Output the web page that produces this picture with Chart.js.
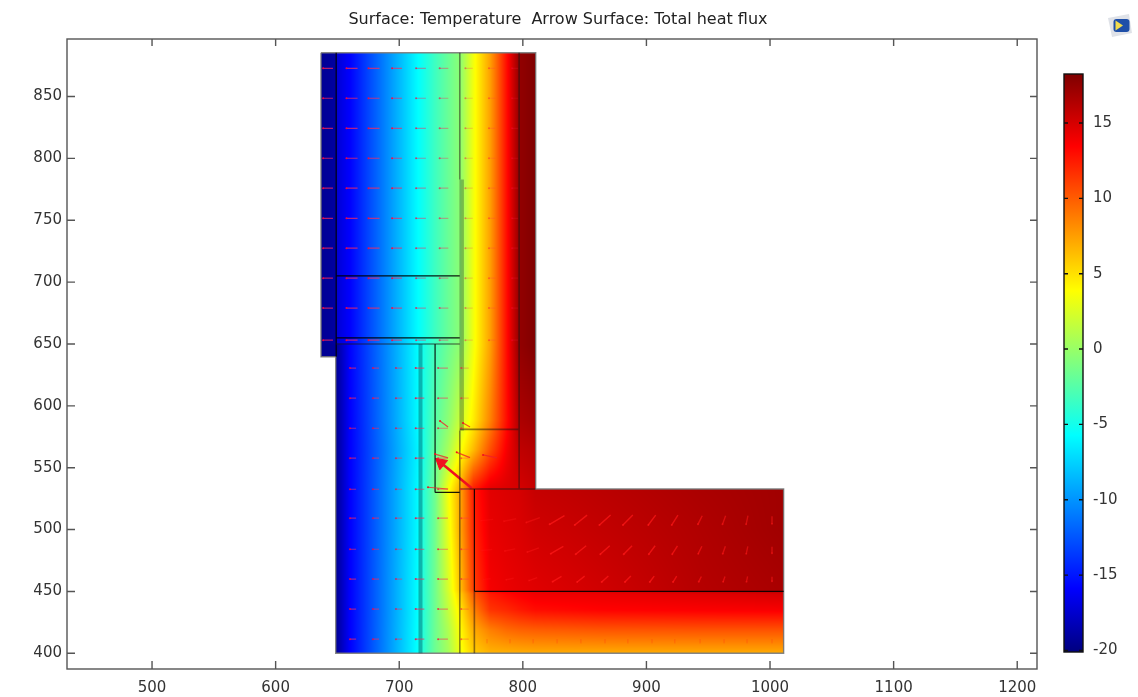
<!DOCTYPE html>
<html>
<head>
<meta charset="utf-8">
<title>Surface: Temperature</title>
<script src="https://cdn.jsdelivr.net/npm/chart.js@4/dist/chart.umd.min.js"></script>
<style>
    html, body { margin: 0; padding: 0; background: #fff; overflow: hidden; }
    #plot { position: absolute; left: 0; top: 0; }
    #colorbar { position: absolute; left: 1040px; top: 0; }
    #logo { position: absolute; left: 1107px; top: 13px; }
</style>
</head>
<body>
<canvas id="plot" width="1116" height="697"></canvas>
<canvas id="colorbar" width="98" height="697"></canvas>
<svg id="logo" width="26" height="26" viewBox="0 0 26 26">
    <path d="M1 5 L22 1 L25 20 L5 24 Z" fill="#dfe2e8"/>
    <rect x="6.5" y="6" width="16" height="13" rx="3" fill="#1f4fa8"/>
    <path d="M8.5 7.5 L16 12.5 L8.5 17.5 Z" fill="#f2dc4e"/>
</svg>
<script>
// Temperature, rows top to bottom, one value per xKnots
const xKnots = [637, 648.5, 649.5, 660, 714.4, 729, 739.5, 749, 760, 773.5, 787, 797, 810, 862.5, 943, 1011];
const yKnots = [885.5, 651, 649, 588.5, 564, 532, 500, 451, 448, 435, 419, 400];
const temps = [
    [-19.4, -19, -17.3, -15.9, -5.9, -3.4, -1.8, -0.5, 3.4, 7.4, 13, 17.5, 18.2, 18.2, 18.2, 18.2],
    [-19.4, -19, -17.3, -15.9, -5.9, -3.4, -1.8, -0.5, 3.4, 7.4, 13, 17.5, 18.2, 18.2, 18.2, 18.2],
    [-19.4, -19.3, -19.2, -15.9, -5.9, -3.2, -1.6, -0.3, 3.4, 7.4, 13, 17.5, 18.2, 18.2, 18.2, 18.2],
    [-19.4, -19.3, -19.2, -16, -6, -2.5, -0.5, 1.8, 4.5, 8.5, 13, 16.5, 17, 17, 17, 17],
    [-19.4, -19.3, -19.2, -16, -6.3, -2, 0.5, 3.5, 6.5, 10.5, 13.8, 15.8, 16.2, 16.2, 16.2, 16.2],
    [-19.4, -19.3, -19.2, -16, -6, -1.5, 3.5, 7, 12.5, 14.5, 14.8, 15, 15.6, 16, 16.6, 17],
    [-19.4, -19.3, -19.2, -16, -6, -1.5, 3, 7, 12, 14.3, 14.6, 14.8, 15.2, 15.7, 16.4, 17],
    [-19.4, -19.3, -19.2, -16, -5.8, -1.5, 2.2, 6, 11, 13.8, 14.2, 14.4, 14.6, 15.2, 16.2, 16.7],
    [-19.4, -19.3, -19.2, -16, -5.8, -1.5, 2, 5.5, 10, 12.5, 13.2, 13.6, 14, 14.2, 14.6, 15],
    [-19.4, -19.3, -19.2, -16, -5.8, -1.6, 1.5, 4.5, 8.5, 11.5, 12, 12.5, 13, 13.4, 13.6, 13.7],
    [-19.4, -19.3, -19.2, -16, -5.7, -1.6, 0.8, 3.8, 7, 8.7, 9.5, 9.8, 10, 10.3, 10.4, 10.4],
    [-19.4, -19.3, -19.2, -16, -5.6, -1.6, 0.4, 3.3, 5.7, 6.7, 6.8, 6.9, 7, 7, 7, 7]
];

// Solid parts of the model: [x0, x1, y0, y1]
const regions = [
    [636.7, 649, 639.7, 885.4],
    [649, 810.4, 532.8, 885.4],
    [648.6, 1011, 400, 532.8]
];
const outlineX = [636.7, 810.4, 810.4, 1011, 1011, 648.6, 648.6, 636.7, 636.7];
const outlineY = [885.4, 885.4, 532.8, 532.8, 400, 400, 639.7, 639.7, 885.4];

// Edges: [x0, y0, x1, y1]
const blackEdges = [
    [649, 885.4, 649, 639.7],
    [649, 705, 749, 705],
    [649, 655, 749, 655],
    [729, 650, 729, 530],
    [729, 530, 749, 530],
    [760.8, 532.8, 760.8, 450],
    [760.8, 450, 1011, 450]
];
const softEdges = [
    [797, 885.4, 797, 532.8],
    [749, 581, 797, 581],
    [649, 650, 749, 650],
    [749, 885.4, 749, 783],
    [749, 580, 749, 400],
    [760.8, 450, 760.8, 400],
    [749, 532.8, 810.4, 532.8]
];
const wideStrip = [[750.5, 783, 750.5, 580]];
const tealStrip = [[717.2, 650, 717.2, 400]];

// Heat flux arrows
const upperArrowX = [642.4, 661.8, 679.6, 698.2, 717.6, 736.2, 756.5, 775.1, 793.7];
const upperArrowY = [872.8, 848.6, 824.3, 800.1, 775.9, 751.6, 727.4, 703.2, 679, 653.1];
const upperArrowLen = [8, 9, 9, 8, 8, 7, 6, 5, 5];
const upperArrowAlpha = [0.7, 0.7, 0.7, 0.65, 0.45, 0.4, 0.22, 0.18, 0.15];
const lowerArrowX = [662.6, 681.2, 699.8, 716.8, 735.4, 753.2];
const lowerArrowY = [630.5, 606.2, 581.9, 557.7, 532.6, 509.2, 484.1, 460, 435.7, 411.4];
const lowerArrowLen = [5, 5, 5, 7, 8, 6];
const lowerArrowAlpha = [0.6, 0.55, 0.45, 0.6, 0.5, 0.3];
const slabArrowX = [771, 789.6, 808.3, 827.7, 847, 866.5, 885, 904.5, 923, 943.4, 962.8, 981.4, 1001.6];
const slabArrowY = [507.7, 483.5, 460];
const slabArrowDx = [10, 10, 11, 12, 10, 9, 8, 6, 5, 3.5, 2.5, 1.5, 0];
const slabArrowDy = [1, 2, 4, 7, 8, 8, 8, 8, 8, 7, 7, 7, 6];
const slabArrowAlpha = [0.25, 0.3, 0.4, 0.7, 0.7, 0.7, 0.7, 0.7, 0.65, 0.6, 0.55, 0.5, 0.5];
const slabRowScale = [1, 0.85, 0.6];
const slabBottomRow = [408, 411.5];
// [headX, headY, tailX, tailY]
const cornerArrows = [
    [733, 587.7, 739.5, 582.9],
    [746.5, 562.4, 757.3, 558.1],
    [767.8, 560.3, 779.1, 557.9],
    [729, 561, 739.5, 557.9],
    [723.3, 534.2, 739.5, 532.8],
    [751.6, 586.1, 757.3, 582.9]
];
const bigArrow = [[730.3, 556.8, 758.7, 533.4]];
const bigArrowHead = [{ x: 733.8, y: 553.9 }];

// Colour scale
const colorValues = [0, 0.11, 0.375, 0.625, 0.875, 1];
const colorStops = [[0, 0, 127], [0, 0, 255], [0, 255, 255], [255, 255, 0], [255, 0, 0], [127, 0, 0]];
const tempMin = -20.1;
const tempMax = 18.25;

function jet(t) {
    const f = Math.min(1, Math.max(0, (t - tempMin) / (tempMax - tempMin)));
    let i = 0;
    while (i < colorValues.length - 2 && f > colorValues[i + 1]) i++;
    const k = (f - colorValues[i]) / (colorValues[i + 1] - colorValues[i]);
    return colorStops[i].map((c, n) => c + (colorStops[i + 1][n] - c) * k);
}

function tempAt(x, y) {
    let i = 0;
    while (i < xKnots.length - 2 && x > xKnots[i + 1]) i++;
    let j = 0;
    while (j < yKnots.length - 2 && y < yKnots[j + 1]) j++;
    const kx = Math.min(1, Math.max(0, (x - xKnots[i]) / (xKnots[i + 1] - xKnots[i])));
    const ky = Math.min(1, Math.max(0, (yKnots[j] - y) / (yKnots[j] - yKnots[j + 1])));
    const top = temps[j][i] + (temps[j][i + 1] - temps[j][i]) * kx;
    const bottom = temps[j + 1][i] + (temps[j + 1][i + 1] - temps[j + 1][i]) * kx;
    return top + (bottom - top) * ky;
}

function inModel(x, y) {
    return regions.some(r => x >= r[0] && x <= r[1] && y >= r[2] && y <= r[3]);
}

// Surface plot, every pixel goes through the chart scales
const fieldPlugin = {
    id: "field",
    beforeDatasetsDraw(chart) {
        const { ctx, chartArea: a, scales } = chart;
        const w = Math.round(a.right - a.left);
        const h = Math.round(a.bottom - a.top);
        const off = document.createElement("canvas");
        off.width = w;
        off.height = h;
        const octx = off.getContext("2d");
        const img = octx.createImageData(w, h);
        for (let py = 0; py < h; py++) {
            const dy = scales.y.getValueForPixel(a.top + py + 0.5);
            for (let px = 0; px < w; px++) {
                const dx = scales.x.getValueForPixel(a.left + px + 0.5);
                if (!inModel(dx, dy)) continue;
                const c = jet(tempAt(dx, dy));
                const p = (py * w + px) * 4;
                img.data[p] = c[0];
                img.data[p + 1] = c[1];
                img.data[p + 2] = c[2];
                img.data[p + 3] = 255;
            }
        }
        octx.putImageData(img, 0, 0);
        ctx.drawImage(off, a.left, a.top);
    }
};

// Frame with ticks pointing inwards on all four sides
const framePlugin = {
    id: "frame",
    afterDraw(chart) {
        const { ctx, chartArea: a, scales } = chart;
        ctx.save();
        ctx.strokeStyle = "#555";
        ctx.lineWidth = 1.4;
        ctx.strokeRect(a.left, a.top, a.right - a.left, a.bottom - a.top);
        ctx.beginPath();
        scales.x.ticks.forEach(t => {
            const p = scales.x.getPixelForValue(t.value);
            ctx.moveTo(p, a.bottom); ctx.lineTo(p, a.bottom - 8);
            ctx.moveTo(p, a.top); ctx.lineTo(p, a.top + 7);
        });
        scales.y.ticks.forEach(t => {
            const p = scales.y.getPixelForValue(t.value);
            ctx.moveTo(a.left, p); ctx.lineTo(a.left + 8, p);
            ctx.moveTo(a.right, p); ctx.lineTo(a.right - 7, p);
        });
        ctx.stroke();
        ctx.restore();
    }
};

function edgePoints(edges) {
    const pts = [];
    edges.forEach(e => pts.push({ x: e[0], y: e[1] }, { x: e[2], y: e[3] }, { x: e[2], y: null }));
    return pts;
}

function lineSet(data, color, width) {
    return { data, showLine: true, spanGaps: false, borderColor: color, borderWidth: width, pointRadius: 0, borderCapStyle: "butt" };
}

function arrowSet(edges, color, dotColor, width) {
    const set = lineSet(edgePoints(edges), color, width || 1.2);
    set.pointRadius = c => (c.dataIndex % 3 === 0 ? 1 : 0);
    set.pointBackgroundColor = dotColor;
    set.pointBorderWidth = 0;
    return set;
}

function pinkArrows(edges, alpha) {
    return arrowSet(edges, `rgba(255,40,90,${alpha})`, `rgba(255,0,60,${Math.min(1, alpha + 0.2)})`);
}

const datasets = [];
upperArrowX.forEach((x, i) => {
    const edges = upperArrowY.map(y => [x - upperArrowLen[i] / 2, y, x + upperArrowLen[i] / 2, y]);
    datasets.push(pinkArrows(edges, upperArrowAlpha[i]));
});
lowerArrowX.forEach((x, i) => {
    const edges = lowerArrowY.map(y => [x - lowerArrowLen[i] / 2, y, x + lowerArrowLen[i] / 2, y]);
    datasets.push(pinkArrows(edges, lowerArrowAlpha[i]));
});
slabArrowX.forEach((x, i) => {
    const edges = slabArrowY.map((y, r) => {
        const s = slabRowScale[r];
        return [x - slabArrowDx[i] * s / 2, y - slabArrowDy[i] * s / 2, x + slabArrowDx[i] * s / 2, y + slabArrowDy[i] * s / 2];
    });
    const a = slabArrowAlpha[i];
    datasets.push(arrowSet(edges, `rgba(255,25,25,${a})`, `rgba(255,25,25,${a})`, 1.4));
});
datasets.push(lineSet(edgePoints(slabArrowX.map(x => [x, slabBottomRow[0], x, slabBottomRow[1]])), "rgba(255,40,20,0.3)", 1));
datasets.push(arrowSet(cornerArrows, "rgba(240,30,40,0.75)", "#f01020"));
datasets.push(lineSet(edgePoints(tealStrip), "rgba(0,70,80,0.4)", 4));
datasets.push(lineSet(edgePoints(wideStrip), "rgba(40,60,40,0.35)", 4.5));
datasets.push(lineSet(edgePoints(softEdges), "rgba(30,20,20,0.5)", 1.6));
datasets.push(lineSet(edgePoints(blackEdges), "rgba(0,0,0,0.9)", 1.2));
datasets.push(lineSet(outlineX.map((x, i) => ({ x, y: outlineY[i] })), "rgba(120,120,120,0.9)", 1.4));
datasets.push(lineSet(edgePoints(bigArrow), "#f01020", 2.6));
datasets.push({
    data: bigArrowHead,
    pointStyle: "triangle",
    pointRadius: 7,
    rotation: -50,
    pointBackgroundColor: "#f01020",
    pointBorderColor: "#f01020"
});

new Chart(document.getElementById("plot"), {
    type: "scatter",
    data: { datasets },
    plugins: [fieldPlugin, framePlugin],
    options: {
        responsive: false,
        animation: false,
        plugins: {
            legend: { display: false },
            tooltip: { enabled: false },
            title: {
                display: true,
                text: "Surface: Temperature  Arrow Surface: Total heat flux",
                color: "#222",
                font: { family: "DejaVu Sans", size: 16, weight: "normal", lineHeight: 1.2 },
                padding: { top: 10.4, bottom: 9.4 }
            }
        },
        scales: {
            x: {
                type: "linear",
                min: 431.2,
                max: 1216,
                afterFit: s => { s.height = 28; },
                grid: { display: false, drawTicks: false },
                border: { display: false },
                ticks: { stepSize: 100, includeBounds: false, maxRotation: 0, padding: 10, color: "#333", font: { family: "DejaVu Sans", size: 15 }, callback: v => String(v) }
            },
            y: {
                type: "linear",
                min: 387.3,
                max: 896.5,
                afterFit: s => { s.width = 67; },
                grid: { display: false, drawTicks: false },
                border: { display: false },
                ticks: { stepSize: 50, includeBounds: false, padding: 5, color: "#333", font: { family: "DejaVu Sans", size: 15 }, callback: v => String(v) }
            },
            // empty axis, keeps the room for the colour bar and the title centred on the canvas
            yRoom: {
                type: "linear",
                position: "right",
                afterFit: s => { s.width = 79; },
                grid: { display: false, drawTicks: false },
                border: { display: false },
                ticks: { display: false }
            }
        }
    }
});

// Colour bar
const barTicks = [-20, -15, -10, -5, 0, 5, 10, 15];

new Chart(document.getElementById("colorbar"), {
    type: "bar",
    data: {
        labels: ["T"],
        datasets: [{
            data: [[tempMin, tempMax]],
            barPercentage: 1,
            categoryPercentage: 1,
            backgroundColor(c) {
                const a = c.chart.chartArea;
                if (!a) return "#000";
                const g = c.chart.ctx.createLinearGradient(0, a.bottom, 0, a.top);
                colorValues.forEach((v, i) => g.addColorStop(v, `rgb(${colorStops[i].join(",")})`));
                return g;
            }
        }]
    },
    plugins: [{
        id: "barFrame",
        afterDraw(chart) {
            const { ctx, chartArea: a, scales } = chart;
            ctx.save();
            ctx.strokeStyle = "#111";
            ctx.lineWidth = 1.4;
            ctx.strokeRect(a.left, a.top, a.right - a.left, a.bottom - a.top);
            ctx.beginPath();
            barTicks.forEach(t => {
                const p = scales.y.getPixelForValue(t);
                ctx.moveTo(a.left, p); ctx.lineTo(a.left + 4, p);
                ctx.moveTo(a.right, p); ctx.lineTo(a.right - 4, p);
            });
            ctx.stroke();
            ctx.restore();
        }
    }],
    options: {
        responsive: false,
        animation: false,
        layout: { padding: { left: 24, right: 0, top: 74, bottom: 45 } },
        plugins: { legend: { display: false }, tooltip: { enabled: false } },
        scales: {
            x: { display: false },
            y: {
                position: "right",
                min: tempMin,
                max: tempMax,
                afterFit: s => { s.width = 55; },
                grid: { display: false, drawTicks: false },
                border: { display: false },
                afterBuildTicks: s => { s.ticks = barTicks.map(value => ({ value })); },
                ticks: { padding: 10, color: "#333", font: { family: "DejaVu Sans", size: 15 } }
            }
        }
    }
});
</script>
</body>
</html>
